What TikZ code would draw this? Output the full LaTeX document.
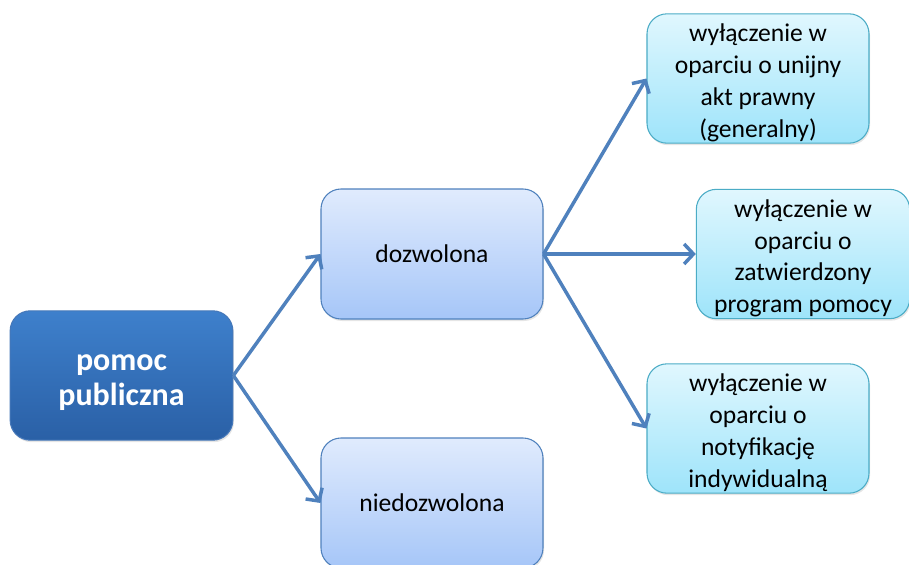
\documentclass[tikz,border=0pt]{standalone}
\usepackage{fontspec}
\setmainfont{Carlito}
\usepackage{tikz}
\usetikzlibrary{positioning,shapes,arrows.meta,shadows}
\usepackage{xcolor}
\definecolor{RootTop}{RGB}{62,128,204}
\definecolor{RootBottom}{RGB}{42,96,166}
\definecolor{RootLine}{RGB}{70,120,185}
\definecolor{MidTop}{RGB}{224,235,253}
\definecolor{MidBottom}{RGB}{166,198,248}
\definecolor{MidLine}{RGB}{79,129,189}
\definecolor{LeafTop}{RGB}{224,247,254}
\definecolor{LeafBottom}{RGB}{158,228,250}
\definecolor{LeafLine}{RGB}{75,172,198}
\definecolor{ArrowBlue}{RGB}{79,129,189}

\begin{document}
\begin{tikzpicture}[x=0.75pt, y=-0.75pt,
  box/.style={rectangle, rounded corners=15pt, align=center, line width=0.8pt,
    drop shadow={opacity=0.2, shadow xshift=0.8pt, shadow yshift=-1.5pt}},
  rootbox/.style={box, draw=RootLine, top color=RootTop, bottom color=RootBottom,
    text=white, font=\fontsize{24}{26.3}\selectfont\bfseries, inner ysep=0pt,
    minimum width=167pt, minimum height=97pt},
  midbox/.style={box, draw=MidLine, top color=MidTop, bottom color=MidBottom,
    font=\fontsize{19.2}{24}\selectfont, minimum width=166.5pt, minimum height=97.5pt},
  leafbox/.style={box, draw=LeafLine, top color=LeafTop, bottom color=LeafBottom,
    font=\fontsize{19.2}{23.8}\selectfont, inner ysep=0pt,
    minimum width=166.5pt, minimum height=97pt},
  link/.style={-{Straight Barb[length=7pt, width=15pt, line width=2.6pt]},
    line width=2.6pt, draw=ArrowBlue}]
  \clip (0,0) rectangle (909,564);
  \fill[white] (0,0) rectangle (909,564);

  \node[rootbox] (pomoc) at (121.5, 375.5)
    {\rule{0pt}{44.5pt}pomoc\\publiczna\rule[-26pt]{0pt}{0pt}};

  \node[midbox] (dozw) at (432, 254) {dozwolona};
  \draw[link] (pomoc.east) -- (dozw.west);
  \node[midbox] (niedozw) at (432, 503) {niedozwolona};
  \draw[link] (pomoc.east) -- (niedozw.west);

  % exemptions
  \node[leafbox] (akt) at (758, 78.5)
    {\rule{0pt}{21pt}wyłączenie w\\oparciu o unijny\\akt prawny\\(generalny)\rule[-4.5pt]{0pt}{0pt}};
  \draw[link] (dozw.east) -- (akt.west);
  \node[leafbox, minimum width=160pt] (program) at (803, 254)
    {\rule{0pt}{21pt}wyłączenie w\\oparciu o\\zatwierdzony\\program pomocy\rule[-4.5pt]{0pt}{0pt}};
  \draw[link] (dozw.east) -- (program.west);
  \node[leafbox] (notyf) at (758, 428.5)
    {\rule{0pt}{21pt}wyłączenie w\\oparciu o\\notyfikację\\indywidualną\rule[-4.5pt]{0pt}{0pt}};
  \draw[link] (dozw.east) -- (notyf.west);
\end{tikzpicture}
\end{document}
